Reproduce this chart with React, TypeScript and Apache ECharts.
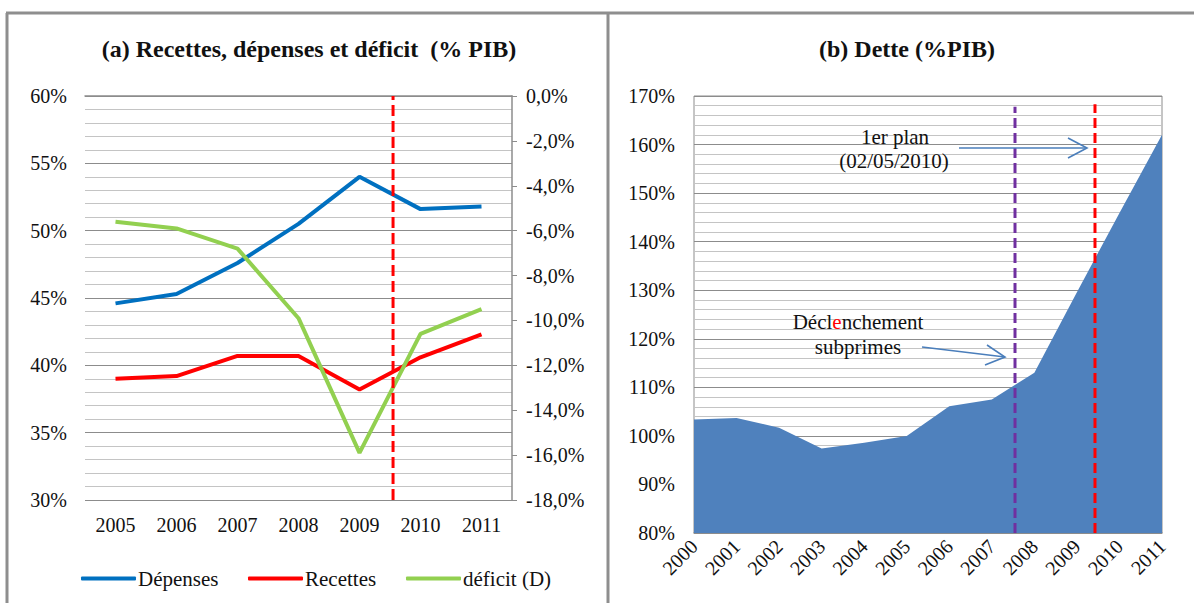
import { useEffect, useRef } from 'react';
import * as echarts from 'echarts';

// ---- Data: panel (a) ----
const yearsA = ['2005', '2006', '2007', '2008', '2009', '2010', '2011'];
const depenses = [44.6, 45.3, 47.6, 50.5, 54.0, 51.6, 51.8];
const recettes = [39.0, 39.2, 40.7, 40.7, 38.2, 40.6, 42.3];
const deficit = [-5.6, -5.9, -6.8, -9.9, -15.9, -10.6, -9.5];
const leftAxisA = { min: 30, max: 60, interval: 5 };
const rightAxisA = { min: -18, max: 0, interval: 2 };

// ---- Data: panel (b) ----
const yearsB = ['2000', '2001', '2002', '2003', '2004', '2005', '2006', '2007', '2008', '2009', '2010', '2011'];
const dette = [103.4, 103.7, 101.7, 97.4, 98.6, 100.0, 106.1, 107.5, 113.0, 129.6, 145.9, 162.0];
const axisB = { min: 80, max: 170, interval: 10 };

// event markers (fractional category index)
const planMarkA = 4.55;
const subprimesMarkB = 7.545;
const planMarkB = 9.425;

const SERIF = '"Liberation Serif", "Times New Roman", serif';
const GRID_MAJOR = '#8c8c8c';
const GRID_MINOR = '#c4c4c4';
const FRAME = '#8e8e8e';

export default function App() {
  const ref = useRef<HTMLDivElement>(null);
  useEffect(() => {
    if (!ref.current) return;
    const chart = echarts.init(ref.current, undefined, { renderer: 'svg' });
    const labelStyle = { color: '#111', fontFamily: SERIF, fontSize: 20 };
    const option: any = {
      animation: false,
      backgroundColor: '#fff',
      grid: [
        { left: 85, top: 96, width: 427, height: 404, containLabel: false },
        { left: 694, top: 96, width: 468, height: 437, containLabel: false, show: true, borderColor: GRID_MAJOR, borderWidth: 1 },
      ],
      xAxis: [
        {
          type: 'category', gridIndex: 0, data: yearsA, boundaryGap: true,
          axisLine: { lineStyle: { color: GRID_MAJOR, width: 1.5 } },
          axisTick: { show: false },
          axisLabel: { ...labelStyle, margin: 15 },
        },
        { type: 'value', gridIndex: 0, min: -0.5, max: yearsA.length - 0.5, show: false },
        {
          type: 'category', gridIndex: 1, data: yearsB, boundaryGap: false,
          axisLine: { lineStyle: { color: GRID_MAJOR, width: 1.5 } },
          axisTick: { show: false },
          axisLabel: { ...labelStyle, fontSize: 20, rotate: 45, margin: 10, interval: 0 },
        },
        { type: 'value', gridIndex: 1, min: 0, max: yearsB.length - 1, show: false },
      ],
      yAxis: [
        {
          type: 'value', gridIndex: 0, position: 'left', ...leftAxisA,
          axisLine: { show: false }, axisTick: { show: false },
          axisLabel: { ...labelStyle, margin: 18, formatter: (v: number) => `${v}%` },
          splitLine: { show: true, lineStyle: { color: GRID_MAJOR, width: 1 } },
          minorTick: { show: false, splitNumber: 5 },
          minorSplitLine: { show: true, lineStyle: { color: GRID_MINOR, width: 1 } },
        },
        {
          type: 'value', gridIndex: 0, position: 'right', ...rightAxisA,
          axisLine: { show: true, lineStyle: { color: GRID_MAJOR, width: 1.5 } },
          axisTick: { show: true, length: 5, lineStyle: { color: GRID_MAJOR } },
          axisLabel: { ...labelStyle, margin: 14, formatter: (v: number) => `${v.toFixed(1).replace('.', ',')}%` },
          splitLine: { show: false },
        },
        {
          type: 'value', gridIndex: 1, ...axisB,
          axisLine: { show: false }, axisTick: { show: false },
          axisLabel: { ...labelStyle, margin: 19, formatter: (v: number) => `${v}%` },
          splitLine: { show: true, lineStyle: { color: GRID_MAJOR, width: 1 } },
          minorTick: { show: false, splitNumber: 5 },
          minorSplitLine: { show: true, lineStyle: { color: GRID_MINOR, width: 1 } },
        },
      ],
      legend: [
        { data: ['Dépenses'], left: 76, top: 563, icon: 'roundRect', itemWidth: 55, itemHeight: 4, itemGap: 0, textStyle: { ...labelStyle, fontSize: 21, padding: [0, 0, 0, -3] } },
        { data: ['Recettes'], left: 243, top: 563, icon: 'roundRect', itemWidth: 55, itemHeight: 4, itemGap: 0, textStyle: { ...labelStyle, fontSize: 21, padding: [0, 0, 0, -3] } },
        { data: ['déficit (D)'], left: 401, top: 563, icon: 'roundRect', itemWidth: 55, itemHeight: 4, itemGap: 0, textStyle: { ...labelStyle, fontSize: 21, padding: [0, 0, 0, -3] } },
      ],
      series: [
        {
          name: 'Dépenses', type: 'line', xAxisIndex: 0, yAxisIndex: 0, data: depenses,
          symbol: 'none', lineStyle: { color: '#0070c0', width: 4 }, itemStyle: { color: '#0070c0' },
        },
        {
          name: 'Recettes', type: 'line', xAxisIndex: 0, yAxisIndex: 0, data: recettes,
          symbol: 'none', lineStyle: { color: '#ff0000', width: 4 }, itemStyle: { color: '#ff0000' },
        },
        {
          name: 'déficit (D)', type: 'line', xAxisIndex: 0, yAxisIndex: 1, data: deficit,
          symbol: 'none', lineStyle: { color: '#92d050', width: 4 }, itemStyle: { color: '#92d050' },
        },
        {
          name: 'planA', type: 'line', xAxisIndex: 1, yAxisIndex: 0,
          data: [[planMarkA, leftAxisA.min], [planMarkA, leftAxisA.max]],
          symbol: 'none', lineStyle: { color: '#ff0000', width: 3, type: [11, 5] }, z: 5,
        },
        {
          name: 'Dette', type: 'line', xAxisIndex: 2, yAxisIndex: 2, data: dette,
          symbol: 'none', lineStyle: { width: 0, color: '#4f81bd' },
          areaStyle: { color: '#4f81bd', opacity: 1, origin: 'start' },
        },
        {
          name: 'subprimesB', type: 'line', xAxisIndex: 3, yAxisIndex: 2,
          data: [[subprimesMarkB, axisB.min], [subprimesMarkB, 167.8]],
          symbol: 'none', lineStyle: { color: '#7030a0', width: 3, type: [10, 5] }, z: 5,
        },
        {
          name: 'planB', type: 'line', xAxisIndex: 3, yAxisIndex: 2,
          data: [[planMarkB, axisB.min], [planMarkB, 168.3]],
          symbol: 'none', lineStyle: { color: '#ff0000', width: 3, type: [10, 5] }, z: 5,
        },
      ],
      graphic: [
        // frame
        { type: 'line', shape: { x1: 6, y1: 13, x2: 1194, y2: 13 }, style: { stroke: FRAME, lineWidth: 3 } },
        { type: 'line', shape: { x1: 7, y1: 13, x2: 7, y2: 603 }, style: { stroke: FRAME, lineWidth: 3 } },
        { type: 'line', shape: { x1: 608, y1: 13, x2: 608, y2: 603 }, style: { stroke: FRAME, lineWidth: 3 } },
        // titles
        {
          type: 'text', x: 309, y: 49,
          style: { text: '(a) Recettes, dépenses et déficit  (% PIB)', font: `bold 24px ${SERIF}`, fill: '#111', textAlign: 'center', align: 'center', textVerticalAlign: 'middle', verticalAlign: 'middle' },
        },
        {
          type: 'text', x: 907, y: 49,
          style: { text: '(b) Dette (%PIB)', font: `bold 24px ${SERIF}`, fill: '#111', textAlign: 'center', align: 'center', textVerticalAlign: 'middle', verticalAlign: 'middle' },
        },
        // annotations panel b
        {
          type: 'text', x: 895, y: 137, z: 10,
          style: { text: '1er plan', font: `21px ${SERIF}`, fill: '#111', textAlign: 'center', align: 'center', textVerticalAlign: 'middle', verticalAlign: 'middle' },
        },
        {
          type: 'text', x: 894, y: 161, z: 10,
          style: { text: '(02/05/2010)', font: `21px ${SERIF}`, fill: '#111', textAlign: 'center', align: 'center', textVerticalAlign: 'middle', verticalAlign: 'middle' },
        },
        {
          type: 'text', x: 858, y: 322, z: 10,
          style: {
            text: 'Décl{r|e}nchement', font: `21px ${SERIF}`, fill: '#111', textAlign: 'center', align: 'center', textVerticalAlign: 'middle', verticalAlign: 'middle',
            rich: { r: { fill: '#ff0000', color: '#ff0000', font: `21px ${SERIF}` } },
          },
        },
        {
          type: 'text', x: 858, y: 347, z: 10,
          style: { text: 'subprimes', font: `21px ${SERIF}`, fill: '#111', textAlign: 'center', align: 'center', textVerticalAlign: 'middle', verticalAlign: 'middle' },
        },
        // arrows
        { type: 'line', z: 10, shape: { x1: 959, y1: 148, x2: 1087, y2: 148 }, style: { stroke: '#4a7ebb', lineWidth: 1.6 } },
        { type: 'polyline', z: 10, shape: { points: [[1068, 138], [1087, 148], [1068, 158]] }, style: { stroke: '#4a7ebb', lineWidth: 1.6, fill: 'none' } },
        { type: 'line', z: 10, shape: { x1: 922, y1: 347, x2: 1005, y2: 357 }, style: { stroke: '#4a7ebb', lineWidth: 1.6 } },
        { type: 'polyline', z: 10, shape: { points: [[987, 345], [1005, 357], [985, 365]] }, style: { stroke: '#4a7ebb', lineWidth: 1.6, fill: 'none' } },
      ],
    };
    chart.setOption(option);
    return () => chart.dispose();
  }, []);
  return <div ref={ref} style={{ position: 'fixed', left: 0, top: 0, width: 1194, height: 603 }} />;
}
